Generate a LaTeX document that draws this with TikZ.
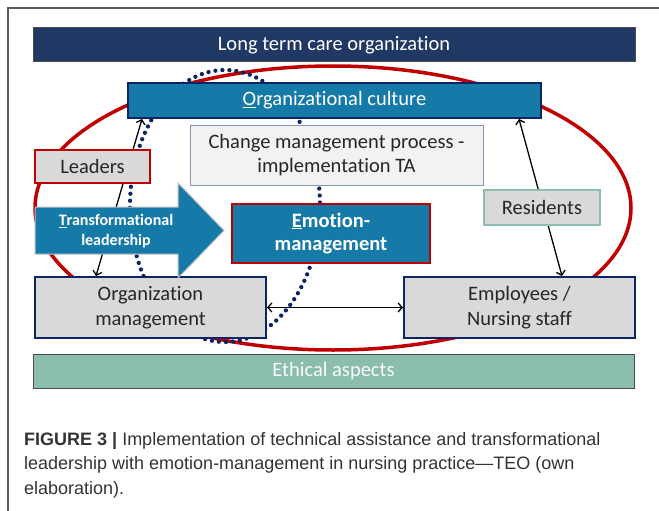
\documentclass[tikz,border=0pt]{standalone}
\usepackage{fontspec}
\setmainfont{Carlito}[Ligatures={NoCommon}]
\newfontfamily\capfont{Liberation Sans}
\usetikzlibrary{arrows.meta,calc}
\definecolor{navy}{RGB}{32,56,100}
\definecolor{navyb}{RGB}{10,36,100}
\definecolor{tealb}{RGB}{22,122,168}
\definecolor{redb}{RGB}{192,0,0}
\definecolor{lgray}{RGB}{217,217,217}
\definecolor{vlgray}{RGB}{242,242,242}
\definecolor{slate}{RGB}{132,150,176}
\definecolor{sea}{RGB}{140,190,168}
\definecolor{ethic}{RGB}{139,190,170}
\definecolor{txt}{RGB}{38,38,38}
\definecolor{capc}{RGB}{51,51,51}
\definecolor{framec}{RGB}{90,90,90}
\tikzset{
  base/.style={inner sep=0pt, align=center, font=\fontsize{20.5}{24.5}\selectfont},
  graybox/.style={base, fill=lgray, draw=navyb, line width=2pt, text=txt},
  bluebox/.style={base, fill=tealb, text=white},
  captxt/.style={anchor=base west, inner sep=0pt, text=capc, font=\capfont\fontsize{18}{24}\selectfont},
  link/.style={line width=1.3pt, {Straight Barb[length=4pt,width=9pt]}-{Straight Barb[length=4pt,width=9pt]}},
  dotline/.style={draw=navyb, line width=4.3pt, line cap=round, dash pattern=on 0pt off 7pt}
}
\begin{document}
\begin{tikzpicture}[x=1pt,y=-1pt]
\useasboundingbox (0,0) rectangle (659,511);
\fill[white] (0,0) rectangle (659,511);
% frame
\draw[framec, line width=1.5pt] (8,511) -- (8,8) -- (659,8);
% bars
\node[base, fill=navy, draw=black!70, line width=1pt, text=white, minimum width=602pt, minimum height=34pt] (ltc) at (334,45) {Long term care organization};
\node[base, fill=ethic, draw=black!70, line width=1pt, text=white!95!ethic, minimum width=601pt, minimum height=34pt] (eth) at (333.5,371) {Ethical aspects};
% red ellipse and dotted loop
\draw[redb, line width=3.5pt] (333,208) ellipse [x radius=298, y radius=142];
\draw[dotline] (225,206) ellipse [x radius=95, y radius=136];
% boxes
\node[bluebox, draw=navyb, line width=2pt, minimum width=413pt, minimum height=35pt] (cult) at (334.5,100.5) {\underline{O}rganizational culture};
\node[base, fill=vlgray, draw=slate, line width=1pt, text=txt, minimum width=293pt, minimum height=60pt] (change) at (336.5,155) {Change management process -\\implementation TA};
\node[graybox, minimum width=231pt, minimum height=61pt] (orgm) at (150.5,307.5) {Organization\\management};
\node[graybox, minimum width=231pt, minimum height=61pt] (emp) at (519.5,307.5) {Employees /\\Nursing staff};
% black connectors behind labels
\coordinate (la) at ($(cult.south west)+(15,0)$);
\coordinate (lb) at ($(orgm.north west)+(62,0)$);
\coordinate (ra) at ($(cult.south east)+(-23,0)$);
\coordinate (rb) at ($(emp.north west)+(159,0)$);
\draw[link] (la) -- (lb);
\draw[link] (ra) -- (rb);
\draw[link] (orgm.east) -- (emp.west);
% labels
\node[graybox, draw=redb, line width=2.5pt, minimum width=115pt, minimum height=33pt] (lead) at (92.5,166.5) {Leaders};
\node[graybox, draw=sea, line width=2.5pt, minimum width=116pt, minimum height=35pt] (res) at (542,207.5) {Residents};
% transformational leadership arrow
\draw[fill=tealb, draw=black!25, line width=1pt] (35,207) -- (178,207) -- (178,183) -- (224,230.5) -- (178,278) -- (178,254) -- (35,254) -- cycle;
\node[inner sep=0pt, align=center, text=white, font=\bfseries\fontsize{16}{20}\selectfont] (tl) at (116,231) {\underline{T}ransformational\\leadership};
\node[bluebox, draw=redb, line width=2.5pt, font=\bfseries\fontsize{20.5}{23.5}\selectfont, minimum width=198pt, minimum height=59pt] (emo) at (331,233.5) {\underline{E}motion-\\management};
% caption
\node[captxt] (c1) at (24,445) {{\bfseries FIGURE 3 |} Implementation of technical assistance and transformational};
\node[captxt] (c2) at (24,469.5) {leadership with emotion-management in nursing practice—TEO (own};
\node[captxt] (c3) at (24,494) {elaboration).};
\end{tikzpicture}
\end{document}
